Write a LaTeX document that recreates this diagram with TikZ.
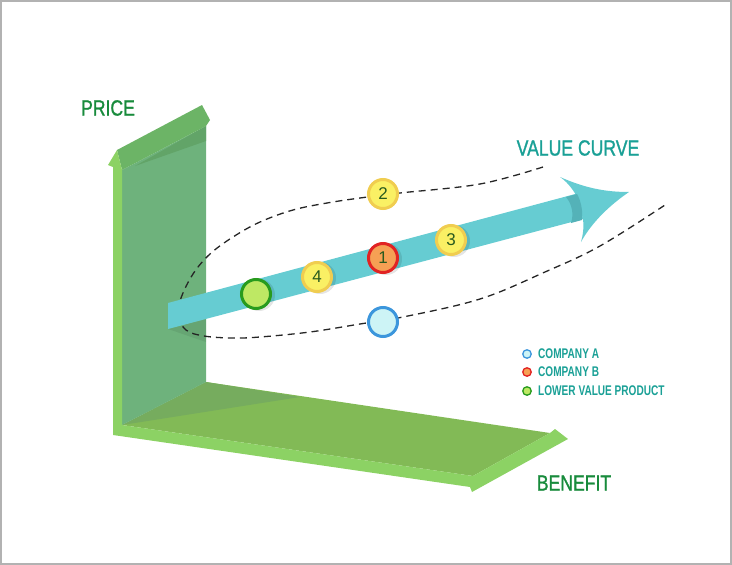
\documentclass[tikz,border=0pt]{standalone}
\usepackage{fontspec}
\setmainfont{Liberation Sans}
\newfontfamily\cond[FakeStretch=0.8,FakeBold=1.2]{Liberation Sans}
\newfontfamily\condl[FakeStretch=0.72]{Liberation Sans}
\definecolor{axgreen}{RGB}{24,139,60}
\definecolor{tealtxt}{RGB}{26,160,150}
\definecolor{numgreen}{RGB}{40,90,30}
\definecolor{yelfill}{RGB}{250,240,100}
\definecolor{yelstroke}{RGB}{240,205,80}
\definecolor{orfill}{RGB}{246,160,84}
\definecolor{redstroke}{RGB}{225,35,35}
\definecolor{grfill}{RGB}{190,232,100}
\definecolor{grstroke}{RGB}{40,155,30}
\definecolor{blfill}{RGB}{205,244,246}
\definecolor{blstroke}{RGB}{60,150,220}
\definecolor{arrteal}{RGB}{102,204,210}
\definecolor{arrdark}{RGB}{84,178,184}
\definecolor{wallc}{RGB}{110,178,124}
\definecolor{bandc}{RGB}{108,180,102}
\definecolor{bandd}{RGB}{98,164,104}
\definecolor{lightc}{RGB}{140,210,100}
\definecolor{floorc}{RGB}{130,186,86}
\definecolor{floors}{RGB}{118,172,94}
\begin{document}
\begin{tikzpicture}[x=1pt,y=-1pt,
  num/.style={circle, minimum size=29pt, inner sep=0pt, line width=3pt,
    font=\fontsize{17}{17}\selectfont, text=numgreen},
  yel/.style={num, draw=yelstroke, fill=yelfill},
  leg/.style={circle, minimum size=8.5pt, inner sep=0pt, line width=1.3pt},
  legtxt/.style={anchor=west, text=tealtxt, inner sep=0pt,
    font=\condl\bfseries\fontsize{14}{14}\selectfont},
  axlabel/.style={font=\cond\fontsize{22}{22}\selectfont, text=axgreen},
  shad/.style={fill=black, opacity=0.1}
]
\path[use as bounding box] (0,0) rectangle (732,565);
\draw[black!30, line width=2pt] (1,1) rectangle (731,564);

% floor
\fill[floorc] (122,425) -- (206,382) -- (550,433) -- (473,476) -- cycle;
\fill[floors] (122,425) -- (206,382) -- (300,397) -- cycle;
% wall
\fill[wallc] (122,170) -- (206,126) -- (206,382) -- (122,425) -- cycle;
\fill[bandd] (135,166) -- (206,126) -- (206,141) -- cycle;
% top bevel of price arrow
\fill[bandc] (117,150) -- (202,105) -- (210,120) -- (206,126) -- (122,170) -- cycle;
% light green axis arrows
\fill[lightc] (117,150) -- (122,170) -- (122,425) -- (473,476) -- (550,433)
  -- (555,429) -- (568,439) -- (472,492) -- (470,487) -- (113,435)
  -- (113,167) -- (108,165) -- cycle;

% dashed value envelope
\draw[black!85, line width=1.3pt, dash pattern=on 7pt off 5pt]
  plot[smooth, tension=0.6] coordinates {(543,167) (480,184) (400,193) (360,198)
  (327,203) (293,210) (260,222) (233,237) (210,254) (193,274) (181,298)
  (178,315) (186,330) (204,336) (232,338) (260,337) (310,332) (360,324)
  (403,317) (480,299) (545,272) (600,246) (665,205)};

% value arrow
\fill[black, opacity=0.07] (168,329) -- (206,319) -- (206,342) -- cycle;
\fill[arrteal] (168,303) -- (579,193) -- (583,219) -- (168,329) -- cycle;
\fill[arrteal] (576,195) .. controls (572,188) and (566,181) .. (560,177)
  .. controls (585,188) and (605,192) .. (629,192)
  .. controls (610,205) and (592,222) .. (581,242)
  .. controls (583,235) and (584,228) .. (583,219) -- cycle;
\fill[arrdark] (566,197) .. controls (572,204) and (574,214) .. (571,223)
  -- (582,220) .. controls (583,211) and (581,201) .. (577,194) -- cycle;

% circle shadows on the band
\fill[shad] (259,295) circle (16);
\fill[shad] (320,278) circle (16);
\fill[shad] (386,259) circle (16);
\fill[shad] (454,241) circle (16);

% circles
\node[num, draw=grstroke, fill=grfill] (lv) at (256,294) {};
\node[yel] (n4) at (317,277) {4};
\node[num, draw=redstroke, fill=orfill] (n1) at (383,258) {1};
\node[yel] (n2) at (383,194) {2};
\node[yel] (n3) at (451,240) {3};
\node[num, draw=blstroke, fill=blfill] (ca) at (383,322) {};

% labels
\node[axlabel] (price) at (108,108) {PRICE};
\node[axlabel, text=tealtxt] (vc) at (578,148) {VALUE CURVE};
\node[axlabel] (ben) at (574,483) {BENEFIT};

% legend
\node[leg, draw=blstroke, fill=blfill] (la) at (527,354) {};
\node[leg, draw=redstroke, fill=orfill] (lb) at (527,372) {};
\node[leg, draw=grstroke, fill=grfill] (lc) at (527,391) {};
\node[legtxt] (ta) at (538,354) {COMPANY A};
\node[legtxt] (tb) at (538,372) {COMPANY B};
\node[legtxt] (tc) at (538,391) {LOWER VALUE PRODUCT};
\end{tikzpicture}
\end{document}
